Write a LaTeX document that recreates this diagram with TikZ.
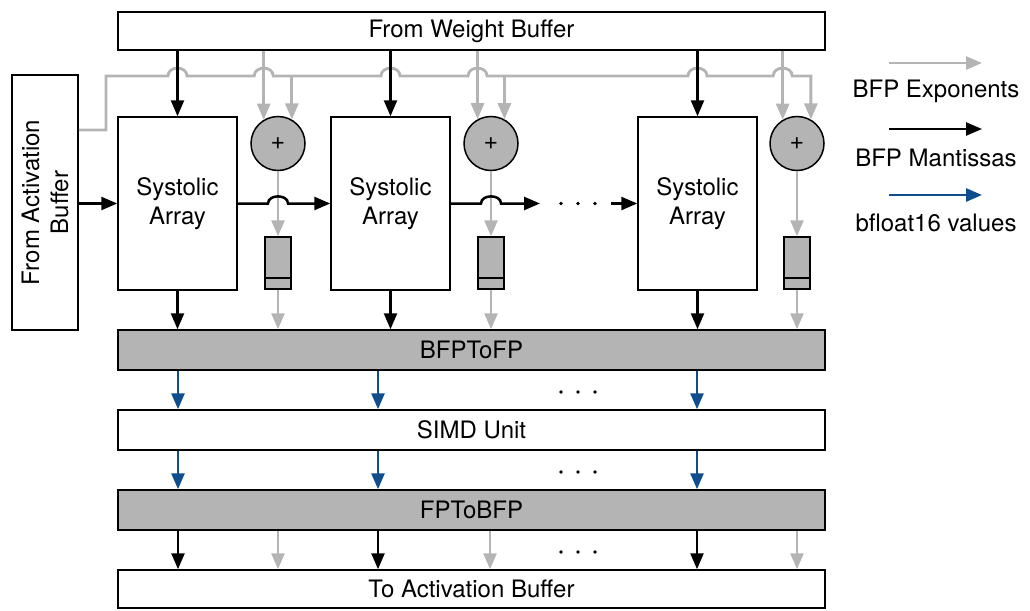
\documentclass[tikz,border=0pt]{standalone}
\usepackage{fontspec}
\setmainfont{TeX Gyre Heros}
\usetikzlibrary{arrows.meta,calc}
\definecolor{expgray}{RGB}{180,180,180}
\definecolor{bfblue}{RGB}{14,78,140}
% a small semicircular bridge where the exponent bus crosses a vertical wire
\newcommand\bushop[1]{-- ($(#1 |- busy)+(-9.5,0)$) .. controls ($(#1 |- busy)+(-9.5,-10.5)$) and ($(#1 |- busy)+(9.5,-10.5)$) .. ($(#1 |- busy)+(9.5,0)$)}
% the same bridge on the mantissa row
\newcommand\rowhop[2]{-- ($(#1 |- #2)+(-10,0)$) .. controls ($(#1 |- #2)+(-10,-9.5)$) and ($(#1 |- #2)+(10,-9.5)$) .. ($(#1 |- #2)+(10,0)$)}
\begin{document}
\begin{tikzpicture}[x=1pt,y=-1pt,
  txt/.style={font=\fontsize{24}{29}\selectfont},
  box/.style={draw, line width=1.5pt, inner sep=0pt, txt, align=center},
  bar/.style={box, minimum width=707pt},
  graybar/.style={bar, fill=expgray},
  sys/.style={box, minimum width=119pt, minimum height=173pt},
  adder/.style={circle, draw, line width=1.5pt, fill=expgray, minimum size=54pt, inner sep=0pt, font=\fontsize{25}{25}\selectfont},
  reg/.style={draw, line width=1.5pt, fill=expgray, minimum width=26pt, minimum height=52pt, inner sep=0pt},
  tip/.style={-{Triangle[length=16pt,width=13pt]}},
  mant/.style={line width=2.5pt, black, tip},
  expo/.style={line width=2.8pt, expgray, tip},
  flt/.style={line width=2.8pt, bfblue, tip},
  dot/.style={fill=black}
]
\useasboundingbox (0,0) rectangle (1030,610);

% buffers and row units
\node[bar, minimum height=38pt] (wb) at (471.5,31) {From Weight Buffer};
\node[box, minimum width=66pt, minimum height=255pt] (act) at (45,202.5) {};
\node[txt, rotate=90, align=center] (actlbl) at (act.center) {From Activation\\Buffer};
\node[graybar, minimum height=40pt] (b2f) at (471.5,350) {BFPToFP};
\node[bar, minimum height=40pt] (simd) at (471.5,430) {SIMD Unit};
\node[graybar, minimum height=40pt] (f2b) at (471.5,510) {FPToBFP};
\node[bar, minimum height=38pt] (toact) at (471.5,589) {To Activation Buffer};

% systolic arrays
\node[sys] (sa1) at (177.5,203.5) {Systolic\\Array};
\node[sys] (sa2) at (390.5,203.5) {Systolic\\Array};
\node[sys] (sa3) at (697.5,203.5) {Systolic\\Array};

% exponent adders and registers
\node[adder] (add1) at (278,143.5) {+};
\node[adder] (add2) at (491,143.5) {+};
\node[adder] (add3) at (797,143.5) {+};
\node[reg] (r1) at (278,263) {};
\node[reg] (r2) at (491,263) {};
\node[reg] (r3) at (797,263) {};
\foreach \r in {r1,r2,r3}
  \draw[line width=1.5pt] ([yshift=12pt]\r.south west) -- ([yshift=12pt]\r.south east);

% exponent bus from the activation buffer
\coordinate (busy) at (0,76);
\coordinate (bend) at (106,76);
\draw[expo] (act.east |- 0,130) -- (bend |- 0,130) -- (bend)
  \bushop{sa1.north} \bushop{add1.121} \bushop{sa2.north} \bushop{add2.119}
  \bushop{sa3.north} \bushop{add3.121} -- (add3.60 |- busy) -- (add3.60);
\draw[expo] (add1.60 |- busy) -- (add1.60);
\draw[expo] (add2.61 |- busy) -- (add2.61);

% weights: mantissas to the arrays, exponents to the adders
\draw[mant] (sa1.north |- wb.south) -- (sa1.north);
\draw[mant] (sa2.north |- wb.south) -- (sa2.north);
\draw[mant] (sa3.north |- wb.south) -- (sa3.north);
\draw[expo] (add1.121 |- wb.south) -- (add1.121);
\draw[expo] (add2.119 |- wb.south) -- (add2.119);
\draw[expo] (add3.121 |- wb.south) -- (add3.121);

% adders to registers to BFPToFP
\foreach \a/\r in {add1/r1,add2/r2,add3/r3}{
  \draw[expo] (\a.south) -- (\r.north);
  \draw[expo] (\r.south) -- (\r.south |- b2f.north);
}

% activation mantissas along the array row
\coordinate (dotsL) at (540,203.5);
\coordinate (dotsR) at (611,203.5);
\draw[mant] (act.east |- sa1.west) -- (sa1.west);
\draw[mant] (sa1.east) \rowhop{r1.north}{sa1.east} -- (sa2.west);
\draw[mant] (sa2.east) \rowhop{r2.north}{sa2.east} -- (dotsL);
\draw[mant] (dotsR) -- (sa3.west);

% arrays to BFPToFP
\foreach \s in {sa1,sa2,sa3}
  \draw[mant] (\s.south) -- (\s.south |- b2f.north);

% bfloat16 values through the SIMD unit
\foreach \x in {178,378,697}{
  \draw[flt] (\x,0 |- b2f.south) -- (\x,0 |- simd.north);
  \draw[flt] (\x,0 |- simd.south) -- (\x,0 |- f2b.north);
}

% FPToBFP to the activation buffer
\foreach \x in {178,378,697}
  \draw[mant] (\x,0 |- f2b.south) -- (\x,0 |- toact.north);
\foreach \x in {278,490,797}
  \draw[expo] (\x,0 |- f2b.south) -- (\x,0 |- toact.north);

% ellipses
\foreach \y in {203.5,392,472,552}
  \foreach \x in {561,578,595}
    \fill[dot] (\x,\y) circle[radius=1.8pt];

% legend
\coordinate (l1a) at (889,63);  \coordinate (l1b) at (982,63);
\coordinate (l2a) at (889,129); \coordinate (l2b) at (982,129);
\coordinate (l3a) at (889,195); \coordinate (l3b) at (982,195);
\draw[expo] (l1a) -- (l1b);
\draw[mant] (l2a) -- (l2b);
\draw[flt] (l3a) -- (l3b);
\node[txt] (lt1) at (936,91) {BFP Exponents};
\node[txt] (lt2) at (936,158) {BFP Mantissas};
\node[txt] (lt3) at (936,223) {bfloat16 values};
\end{tikzpicture}
\end{document}
